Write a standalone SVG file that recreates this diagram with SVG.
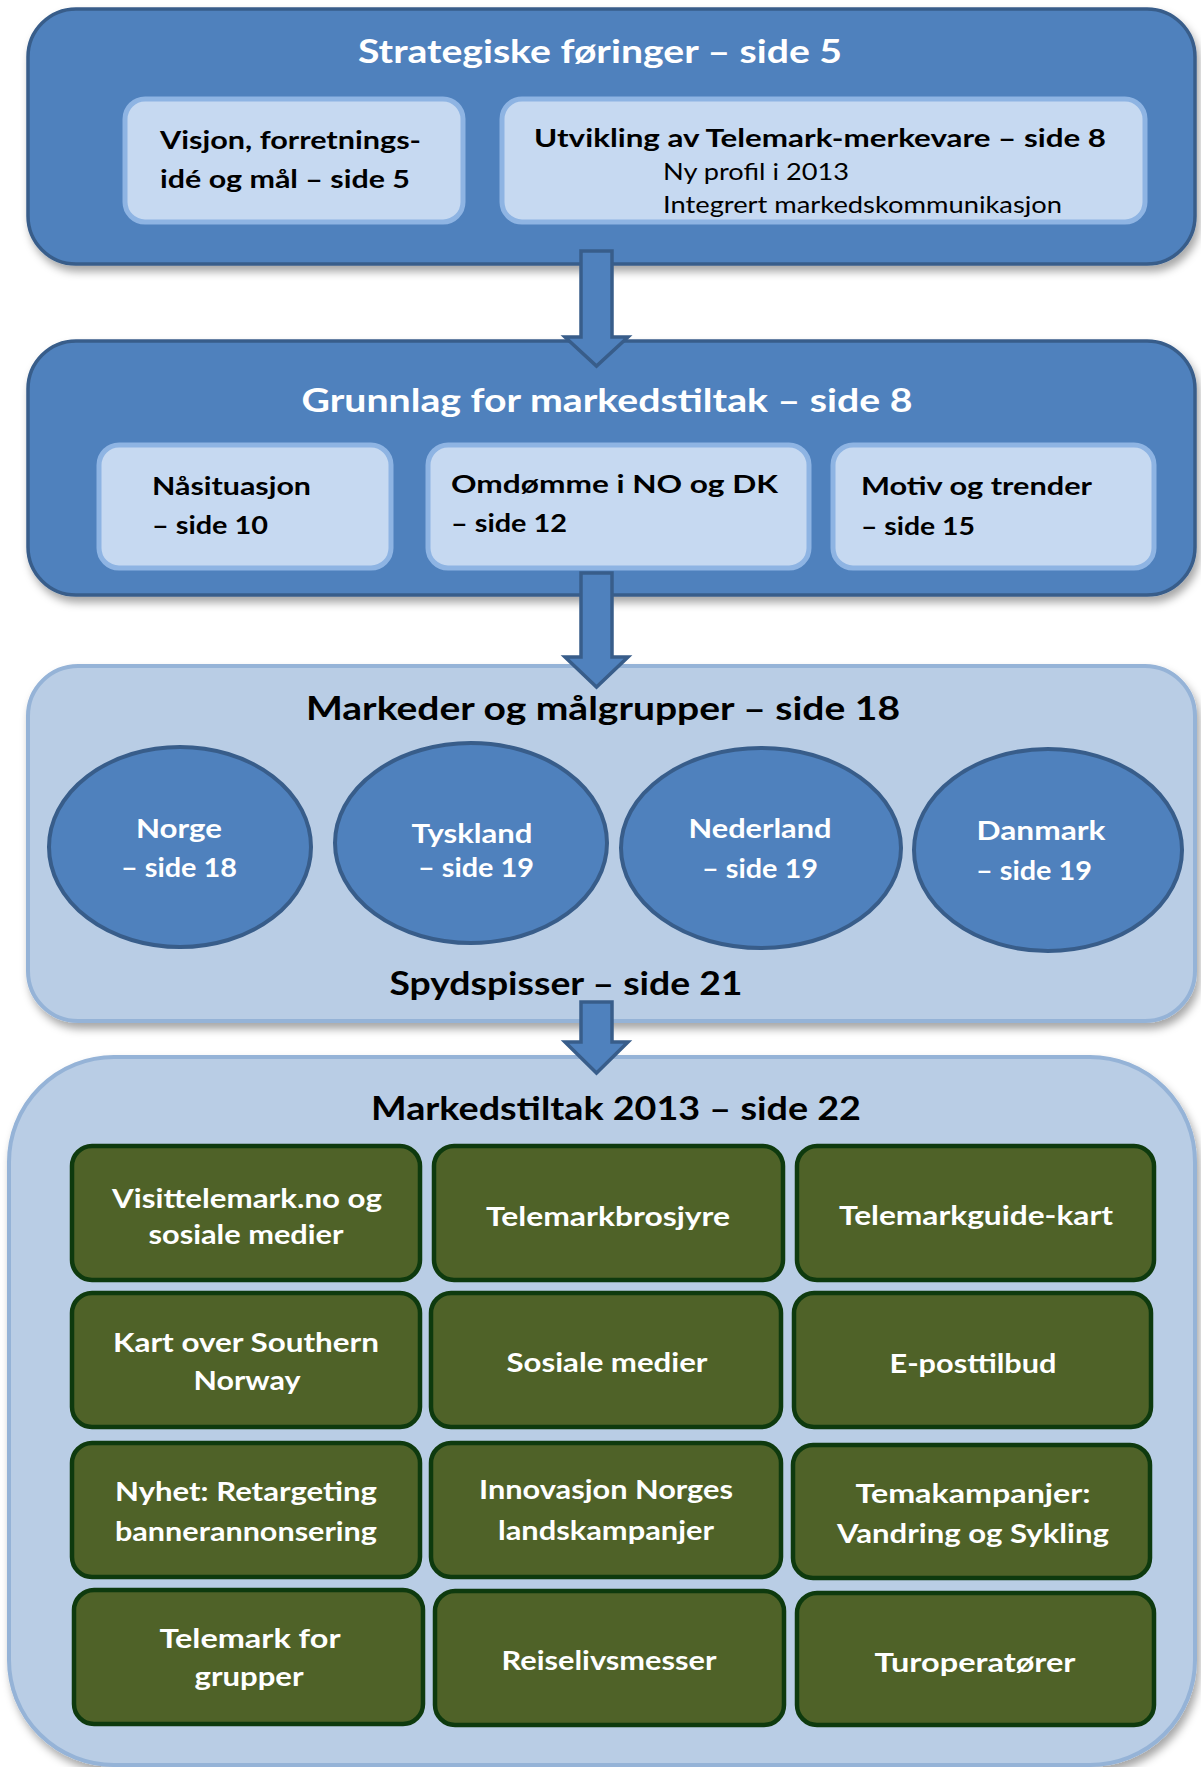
<svg xmlns="http://www.w3.org/2000/svg" width="1201" height="1767" viewBox="0 0 1201 1767">
<defs>
<filter id="sh" x="-5%" y="-5%" width="112%" height="115%">
<feDropShadow dx="3" dy="6" stdDeviation="4" flood-color="#000" flood-opacity="0.35"/>
</filter>
<style>
text{font-family:Lato,"Open Sans","Liberation Sans",sans-serif;font-weight:bold}
.dark{fill:#4F81BD;stroke:#385D8A;stroke-width:3.5}
.light{fill:#B9CDE5;stroke:#95B3D7;stroke-width:4}
.inner{fill:#C6D9F1;stroke:#8EB4E3;stroke-width:5}
.ell{fill:#4F81BD;stroke:#385D8A;stroke-width:4}
.green{fill:#4F6228;stroke:#0E3A0E;stroke-width:4.5}
.arrow{fill:#4F81BD;stroke:#385D8A;stroke-width:3.5;stroke-linejoin:miter}
.tw{fill:#fff;font-size:33px}
.tb{fill:#000;font-size:33px}
.ib{fill:#000;font-size:25px}
.ir{fill:#000;font-size:24px;font-weight:normal}
.et{fill:#fff;font-size:26px;text-anchor:middle}
.gt{fill:#fff;font-size:26px;text-anchor:middle}
.c{text-anchor:middle}
</style>
</defs>
<rect width="1201" height="1767" fill="#fff"/>

<g id="strategiske">
<rect class="dark" x="28" y="9" width="1167" height="255" rx="48" filter="url(#sh)"/>
<text class="tw c" x="600" y="63" textLength="484" lengthAdjust="spacingAndGlyphs">Strategiske føringer – side 5</text>
</g>
<g id="visjon">
<rect class="inner" x="125" y="99" width="338" height="123" rx="20"/>
<text class="ib" x="160" y="149" textLength="261" lengthAdjust="spacingAndGlyphs">Visjon, forretnings-</text>
<text class="ib" x="160" y="188" textLength="250" lengthAdjust="spacingAndGlyphs">idé og mål – side 5</text>
</g>
<g id="utvikling">
<rect class="inner" x="502" y="99" width="643" height="123" rx="20"/>
<text class="ib" x="534" y="147" textLength="572" lengthAdjust="spacingAndGlyphs">Utvikling av Telemark-merkevare – side 8</text>
<text class="ir" x="663" y="180" textLength="186" lengthAdjust="spacingAndGlyphs">Ny profil i 2013</text>
<text class="ir" x="663" y="213" textLength="399" lengthAdjust="spacingAndGlyphs">Integrert markedskommunikasjon</text>
</g>

<g id="grunnlag">
<rect class="dark" x="28" y="341" width="1167" height="254" rx="48" filter="url(#sh)"/>
<text class="tw c" x="607" y="412" textLength="611" lengthAdjust="spacingAndGlyphs">Grunnlag for markedstiltak – side 8</text>
</g>
<g id="nasituasjon">
<rect class="inner" x="99" y="445" width="292" height="123" rx="20"/>
<text class="ib" x="152" y="495" textLength="159" lengthAdjust="spacingAndGlyphs">Nåsituasjon</text>
<text class="ib" x="152" y="534" textLength="116" lengthAdjust="spacingAndGlyphs">– side 10</text>
</g>
<g id="omdomme">
<rect class="inner" x="428" y="445" width="381" height="123" rx="20"/>
<text class="ib" x="451" y="493" textLength="327" lengthAdjust="spacingAndGlyphs">Omdømme i NO og DK</text>
<text class="ib" x="451" y="532" textLength="116" lengthAdjust="spacingAndGlyphs">– side 12</text>
</g>
<g id="motiv">
<rect class="inner" x="833" y="445" width="321" height="123" rx="20"/>
<text class="ib" x="861" y="495" textLength="231" lengthAdjust="spacingAndGlyphs">Motiv og trender</text>
<text class="ib" x="861" y="535" textLength="114" lengthAdjust="spacingAndGlyphs">– side 15</text>
</g>

<g id="markeder">
<rect class="light" x="28" y="666" width="1167" height="355" rx="50" filter="url(#sh)"/>
<text class="tb c" x="603" y="720" textLength="594" lengthAdjust="spacingAndGlyphs">Markeder og målgrupper – side 18</text>
<text class="tb c" x="566" y="995" textLength="353" lengthAdjust="spacingAndGlyphs">Spydspisser – side 21</text>
</g>
<g id="norge">
<ellipse class="ell" cx="180" cy="847" rx="131" ry="100"/>
<text class="et" x="179" y="838" textLength="86" lengthAdjust="spacingAndGlyphs">Norge</text>
<text class="et" x="179" y="877" textLength="116" lengthAdjust="spacingAndGlyphs">– side 18</text>
</g>
<g id="tyskland">
<ellipse class="ell" cx="471" cy="843" rx="136" ry="100"/>
<text class="et" x="472" y="843" textLength="121" lengthAdjust="spacingAndGlyphs">Tyskland</text>
<text class="et" x="476" y="877" textLength="116" lengthAdjust="spacingAndGlyphs">– side 19</text>
</g>
<g id="nederland">
<ellipse class="ell" cx="761" cy="848" rx="140" ry="100"/>
<text class="et" x="760" y="838" textLength="143" lengthAdjust="spacingAndGlyphs">Nederland</text>
<text class="et" x="760" y="878" textLength="116" lengthAdjust="spacingAndGlyphs">– side 19</text>
</g>
<g id="danmark">
<ellipse class="ell" cx="1048" cy="850" rx="134" ry="101"/>
<text class="et" x="1041" y="840" textLength="129" lengthAdjust="spacingAndGlyphs">Danmark</text>
<text class="et" x="1034" y="880" textLength="116" lengthAdjust="spacingAndGlyphs">– side 19</text>
</g>

<g id="markedstiltak">
<rect class="light" x="9" y="1057" width="1186" height="708" rx="105" filter="url(#sh)"/>
<text class="tb c" x="616" y="1120" textLength="490" lengthAdjust="spacingAndGlyphs">Markedstiltak 2013 – side 22</text>
</g>

<g id="r1c1"><rect class="green" x="72" y="1146" width="348" height="134" rx="20"/>
<text class="gt" x="247" y="1208" textLength="270" lengthAdjust="spacingAndGlyphs">Visittelemark.no og</text>
<text class="gt" x="246" y="1244" textLength="195" lengthAdjust="spacingAndGlyphs">sosiale medier</text></g>
<g id="r1c2"><rect class="green" x="434" y="1146" width="349" height="134" rx="20"/>
<text class="gt" x="608" y="1226" textLength="244" lengthAdjust="spacingAndGlyphs">Telemarkbrosjyre</text></g>
<g id="r1c3"><rect class="green" x="797" y="1146" width="357" height="134" rx="20"/>
<text class="gt" x="976" y="1225" textLength="274" lengthAdjust="spacingAndGlyphs">Telemarkguide-kart</text></g>

<g id="r2c1"><rect class="green" x="72" y="1293" width="348" height="134" rx="20"/>
<text class="gt" x="246" y="1352" textLength="266" lengthAdjust="spacingAndGlyphs">Kart over Southern</text>
<text class="gt" x="247" y="1390" textLength="107" lengthAdjust="spacingAndGlyphs">Norway</text></g>
<g id="r2c2"><rect class="green" x="431" y="1293" width="350" height="134" rx="20"/>
<text class="gt" x="607" y="1372" textLength="201" lengthAdjust="spacingAndGlyphs">Sosiale medier</text></g>
<g id="r2c3"><rect class="green" x="794" y="1293" width="357" height="134" rx="20"/>
<text class="gt" x="973" y="1373" textLength="167" lengthAdjust="spacingAndGlyphs">E-posttilbud</text></g>

<g id="r3c1"><rect class="green" x="72" y="1443" width="348" height="134" rx="20"/>
<text class="gt" x="246" y="1501" textLength="262" lengthAdjust="spacingAndGlyphs">Nyhet: Retargeting</text>
<text class="gt" x="246" y="1541" textLength="262" lengthAdjust="spacingAndGlyphs">bannerannonsering</text></g>
<g id="r3c2"><rect class="green" x="431" y="1443" width="350" height="134" rx="20"/>
<text class="gt" x="606" y="1499" textLength="254" lengthAdjust="spacingAndGlyphs">Innovasjon Norges</text>
<text class="gt" x="606" y="1540" textLength="216" lengthAdjust="spacingAndGlyphs">landskampanjer</text></g>
<g id="r3c3"><rect class="green" x="793" y="1445" width="357" height="133" rx="20"/>
<text class="gt" x="973" y="1503" textLength="235" lengthAdjust="spacingAndGlyphs">Temakampanjer:</text>
<text class="gt" x="973" y="1543" textLength="272" lengthAdjust="spacingAndGlyphs">Vandring og Sykling</text></g>

<g id="r4c1"><rect class="green" x="74" y="1590" width="349" height="134" rx="20"/>
<text class="gt" x="250" y="1648" textLength="181" lengthAdjust="spacingAndGlyphs">Telemark for</text>
<text class="gt" x="249" y="1686" textLength="109" lengthAdjust="spacingAndGlyphs">grupper</text></g>
<g id="r4c2"><rect class="green" x="435" y="1591" width="349" height="134" rx="20"/>
<text class="gt" x="609" y="1670" textLength="215" lengthAdjust="spacingAndGlyphs">Reiselivsmesser</text></g>
<g id="r4c3"><rect class="green" x="797" y="1593" width="357" height="132" rx="20"/>
<text class="gt" x="975" y="1672" textLength="201" lengthAdjust="spacingAndGlyphs">Turoperatører</text></g>

<g id="connectors">
<polygon class="arrow" points="581,251 612,251 612,337 628,337 596.5,366 565,337 581,337"/>
<polygon class="arrow" points="581,573 612,573 612,657 628,657 596.5,687 565,657 581,657"/>
<polygon class="arrow" points="581,1002 612,1002 612,1042 628,1042 596.5,1073 565,1042 581,1042"/>
</g>
</svg>
